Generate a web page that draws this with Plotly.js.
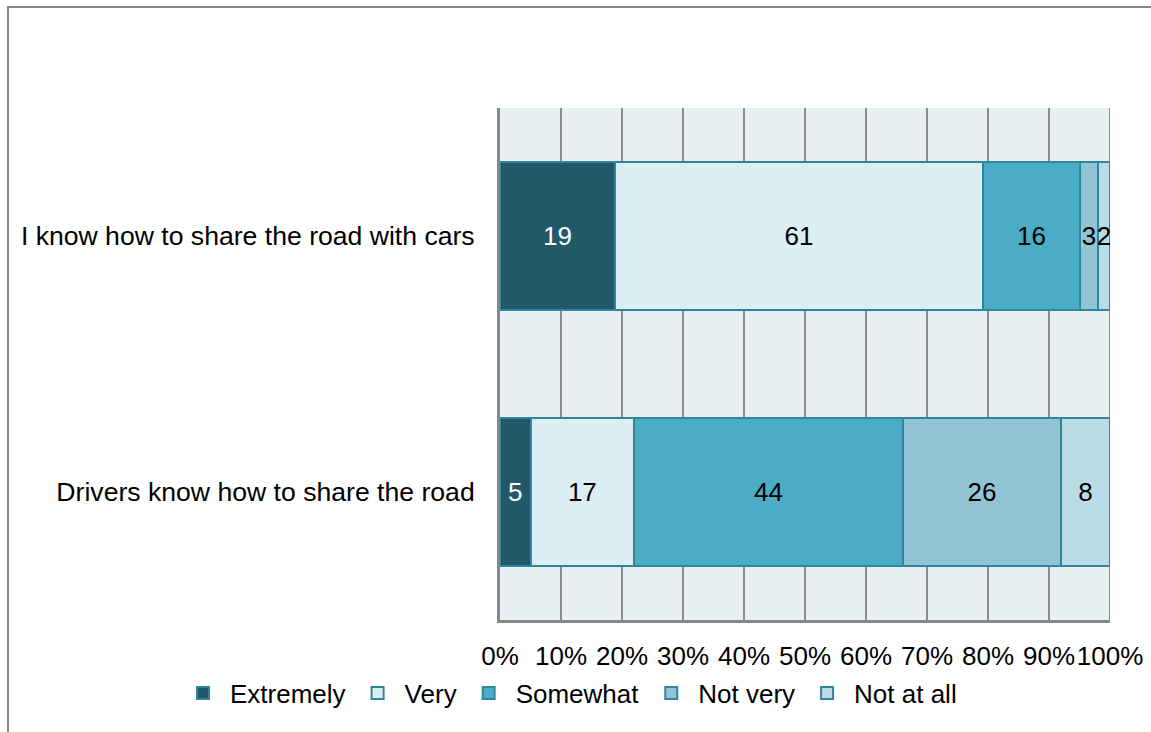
<!DOCTYPE html>
<html>
<head>
<meta charset="utf-8">
<script src="https://cdn.plot.ly/plotly-3.0.1.min.js"></script>
<style>
  html, body { margin: 0; padding: 0; background: #ffffff; }
  #wrap { position: relative; width: 1151px; height: 732px; overflow: hidden; }
  #frame { position: absolute; left: 7px; top: 6px; width: 1200px; height: 800px;
           border-left: 2.5px solid #878787; border-top: 2.5px solid #878787; pointer-events: none; z-index: 5; }
  #chart { position: absolute; left: 0; top: 0; width: 1151px; height: 732px; }
</style>
</head>
<body>
<div id="wrap">
  <div id="chart"></div>
  <div id="frame"></div>
</div>
<script>
// Categories (top to bottom)
const categories = ["I know how to share the road with cars", "Drivers know how to share the road"];
// Series
const seriesNames = ["Extremely", "Very", "Somewhat", "Not very", "Not at all"];
const extremely = [19, 5];
const very = [61, 17];
const somewhat = [16, 44];
const notVery = [3, 26];
const notAtAll = [2, 8];
// Tick labels
const xTickVals = [0, 10, 20, 30, 40, 50, 60, 70, 80, 90, 100];
const xTickText = ["0%", "10%", "20%", "30%", "40%", "50%", "60%", "70%", "80%", "90%", "100%"];

const seriesValues = [extremely, very, somewhat, notVery, notAtAll];
const fillColors = ["#215968", "#DAEEF3", "#4BACC6", "#93C4D5", "#B9DBE6"];
const textColors = ["#ffffff", "#000000", "#000000", "#000000", "#000000"];
const FONT = "Liberation Sans, Arial, sans-serif";
const FS = 26;

const traces = seriesNames.map((name, i) => ({
  type: "bar",
  orientation: "h",
  name: name,
  y: categories,
  x: seriesValues[i],
  text: seriesValues[i].map(String),
  textposition: "inside",
  insidetextanchor: "middle",
  textangle: 0,
  constraintext: "none",
  cliponaxis: false,
  textfont: { family: FONT, size: FS, color: textColors[i] },
  marker: { color: fillColors[i], line: { color: "#31859C", width: 2 } },
  width: 0.575,
  hoverinfo: "skip"
}));

const layout = {
  width: 1151,
  height: 732,
  margin: { l: 500, r: 41, t: 108, b: 112, autoexpand: false },
  paper_bgcolor: "#ffffff",
  plot_bgcolor: "#E8EFF3",
  barmode: "stack",
  barnorm: "percent",
  showlegend: true,
  uniformtext: { minsize: FS, mode: "show" },
  font: { family: FONT, size: FS, color: "#000000" },
  xaxis: {
    range: [0, 100],
    tickvals: xTickVals,
    ticktext: xTickText,
    tickangle: 0,
    showgrid: true,
    gridcolor: "#8C8C8C",
    gridwidth: 2,
    zeroline: false,
    showline: true,
    linecolor: "#878787",
    linewidth: 2.5,
    ticks: "",
    ticklabelstandoff: 11,
    ticklabeloverflow: "allow",
    automargin: false,
    tickfont: { family: FONT, size: FS, color: "#000000" },
    fixedrange: true
  },
  yaxis: {
    type: "category",
    categoryorder: "array",
    categoryarray: categories,
    autorange: "reversed",
    showgrid: false,
    zeroline: false,
    showline: true,
    linecolor: "#878787",
    linewidth: 3,
    ticks: "",
    ticklabelstandoff: 17,
    automargin: false,
    tickfont: { family: FONT, size: 26.6, color: "#000000" },
    fixedrange: true
  },
  shapes: [{
    type: "line", layer: "below", xref: "x", yref: "paper",
    x0: 100, x1: 100, y0: 0, y1: 1,
    line: { color: "#8C8C8C", width: 2 }
  }],
  legend: {
    orientation: "h",
    x: -0.5311,
    xanchor: "left",
    y: -0.143,
    yanchor: "middle",
    font: { family: FONT, size: FS, color: "#000000" },
    traceorder: "normal",
    itemwidth: 44,
    bgcolor: "rgba(0,0,0,0)"
  }
};

Plotly.newPlot("chart", traces, layout, { staticPlot: true, displayModeBar: false });
</script>
</body>
</html>
